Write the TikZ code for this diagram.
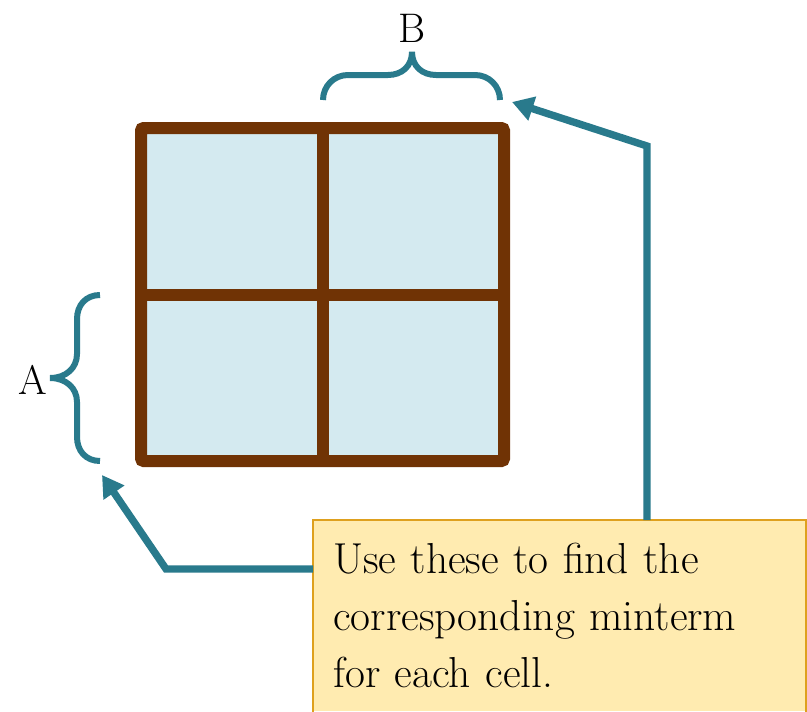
\documentclass[tikz,border=0pt]{standalone}
\usepackage{fontspec}
\usepackage{tikz}
\usepackage{xcolor}
\usetikzlibrary{arrows.meta, positioning, calc}
\definecolor{cTeal}{RGB}{41,122,140}
\definecolor{cBrown}{RGB}{112,51,5}
\definecolor{cCell}{RGB}{212,234,240}
\definecolor{cNote}{RGB}{255,235,176}
\definecolor{cNoteEdge}{RGB}{222,160,30}
\tikzset{
	kgrid/.style    ={rectangle, draw=cBrown, line width=9pt, fill=cCell, rounded corners=2pt, inner sep=0pt, minimum width=272.25pt, minimum height=249.75pt},
	gridline/.style ={cBrown, line width=9pt},
	bracket/.style  ={cTeal, line width=4.5pt},
	pointer/.style  ={cTeal, line width=5.5pt, -{Triangle[length=16pt, width=18pt]}},
	varlabel/.style ={font=\fontsize{31}{36}\selectfont, inner sep=0pt},
	notebox/.style  ={rectangle, fill=cNote, anchor=north west, align=left, text width=339pt, inner xsep=15pt, inner ysep=15pt, minimum width=369pt, minimum height=143.25pt, font=\fontsize{32.5}{42.75}\selectfont},
}
\begin{document}
\begin{tikzpicture}[x=0.75pt, y=-0.75pt]
	\useasboundingbox (0,0) rectangle (807,711);
	% the 2x2 map
	\node[kgrid] (kmap) at (322.5,294.5) {};
	\draw[gridline] (kmap.north) -- (kmap.south);
	\draw[gridline] (kmap.west) -- (kmap.east);
	% braces and variable names
	\draw[bracket] (323,100) .. controls (323,86) and (334,75) .. (348,75) -- (388,75)
		.. controls (402,75) and (412,66) .. (412,52) .. controls (412,66) and (422,75) .. (436,75)
		-- (475,75) .. controls (489,75) and (500,86) .. (500,100);
	\draw[bracket] (100,295) .. controls (86,295) and (77,305) .. (77,319) -- (77,354)
		.. controls (77,368) and (66,378) .. (50,378) .. controls (66,378) and (77,388) .. (77,402)
		-- (77,437) .. controls (77,451) and (86,461) .. (100,461);
	\node[varlabel] (labB) at (412,28) {B};
	\node[varlabel] (labA) at (33,380) {A};
	% callout
	\node[notebox] (note) at (313,520) {Use these to find the\\corresponding minterm\\for each cell.};
	\draw[cNoteEdge, line width=1.5pt] (note.south west) |- (note.north east) -- (note.south east);
	\coordinate (turnA) at (166,569);
	\coordinate (tipA) at (102,475);
	\coordinate (turnB) at (647,146);
	\coordinate (tipB) at (512,102);
	\draw[pointer] (note.west |- turnA) -- (turnA) -- (tipA);
	\draw[pointer] (note.north -| turnB) -- (turnB) -- (tipB);
\end{tikzpicture}
\end{document}
